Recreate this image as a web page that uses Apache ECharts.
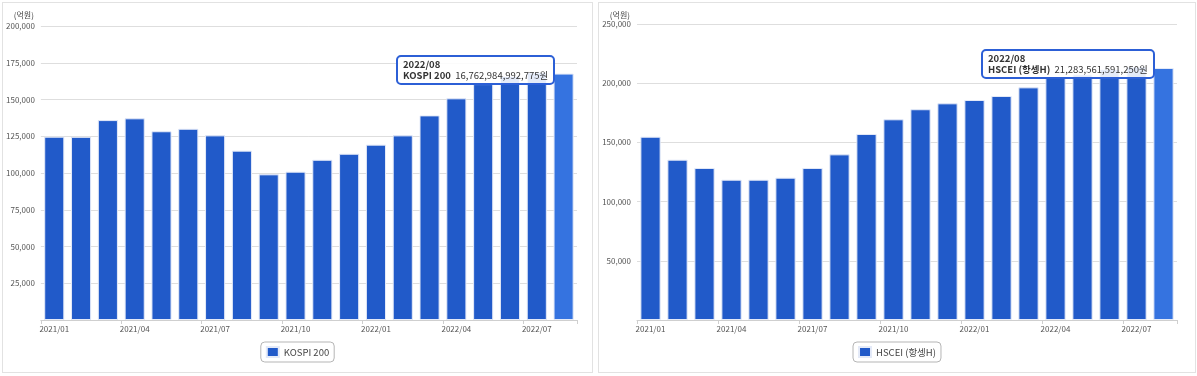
<!DOCTYPE html>
<html>
<head>
<meta charset="utf-8">
<script src="https://cdn.jsdelivr.net/npm/echarts@6/dist/echarts.min.js"></script>
<style>
  body { margin: 0; background: #fff; }
  .panel { position: absolute; top: 2px; height: 369px; border: 1px solid #e2e2e2; box-sizing: content-box; }
</style>
</head>
<body>
<div id="kospiChart" class="panel" style="left:2px; width:589px;"></div>
<div id="hsceiChart" class="panel" style="left:598px; width:596px;"></div>

<script>
// 월별 (억원)
const months = ['2021/01', '2021/02', '2021/03', '2021/04', '2021/05', '2021/06', '2021/07', '2021/08', '2021/09', '2021/10',
                '2021/11', '2021/12', '2022/01', '2022/02', '2022/03', '2022/04', '2022/05', '2022/06', '2022/07', '2022/08'];
const kospiValues = [124700, 124600, 136000, 137200, 128400, 130100, 125600, 115200, 99100, 100900,
                     109000, 113100, 119300, 125600, 139200, 150800, 160500, 166000, 168500, 167629.84992775];
const hsceiValues = [154800, 135400, 128400, 118500, 118500, 120200, 128400, 139900, 157100, 169500,
                     178000, 183000, 185800, 189200, 196500, 205000, 207500, 212000, 214000, 212835.6159125];

const font = "'Noto Sans CJK KR', 'Noto Sans', sans-serif";

function makeChart(id, name, values, max, interval, grid, nameGap) {
    let chart = echarts.init(document.getElementById(id));
    chart.setOption({
        animation: false,
        textStyle: { fontFamily: font },
        grid: grid,
        tooltip: {
            trigger: 'item',
            alwaysShowContent: true,
            backgroundColor: 'rgba(255,255,255,0.88)',
            borderColor: '#2c5fd6',
            borderWidth: 2,
            borderRadius: 5,
            padding: [2, 5],
            extraCssText: 'box-shadow:none; line-height:11px;',
            textStyle: { fontSize: 9.5, color: '#333', fontFamily: font },
            position: function (point, params, dom, rect, size) {
                return [rect.x + rect.width - 19 - size.contentSize[0], rect.y + 11 - size.contentSize[1]];
            },
            formatter: function (p) {
                let won = Math.round(p.value * 1e8).toLocaleString('en-US');
                return '<b>' + p.name + '</b><br/><b>' + p.seriesName + '</b>&nbsp; ' + won + '원';
            }
        },
        legend: {
            data: [name],
            left: 'center',
            top: 339,
            icon: 'rect',
            itemWidth: 12,
            itemHeight: 10,
            itemGap: 4,
            padding: [4, 5],
            borderColor: '#b5b5b5',
            borderWidth: 1,
            borderRadius: 4,
            textStyle: { fontSize: 9.5, color: '#444', fontFamily: font }
        },
        xAxis: {
            type: 'category',
            data: months,
            axisLine: { lineStyle: { color: '#cfcfcf' } },
            axisTick: { show: true, interval: 2, length: 4, lineStyle: { color: '#cfcfcf' } },
            axisLabel: { interval: 2, fontSize: 8, color: '#555', margin: 5 }
        },
        yAxis: {
            type: 'value',
            min: 0,
            max: max,
            interval: interval,
            name: '(억원)',
            nameGap: nameGap,
            nameTextStyle: { fontSize: 8, color: '#444', align: 'right', padding: [0, 7, 0, 0] },
            axisLine: { show: false },
            axisTick: { show: false },
            axisLabel: {
                fontSize: 8, color: '#555', margin: 6,
                formatter: function (v) { return v === 0 ? '' : v.toLocaleString('en-US'); }
            },
            splitLine: { lineStyle: { color: '#dedede' } }
        },
        series: [{
            name: name,
            type: 'bar',
            data: values,
            barCategoryGap: '25%',
            itemStyle: { color: '#215ac9', borderColor: '#e4eaf8', borderWidth: 1 },
            emphasis: { focus: 'none', itemStyle: { color: '#3573e0', borderColor: '#e4eaf8' } }
        }]
    });
    let last = values.length - 1;
    chart.dispatchAction({ type: 'showTip', seriesIndex: 0, dataIndex: last });
    chart.dispatchAction({ type: 'highlight', seriesIndex: 0, dataIndex: last });
    window.addEventListener('resize', function () { chart.resize(); });
    return chart;
}

makeChart('kospiChart', 'KOSPI 200', kospiValues, 200000, 25000, { left: 37, top: 23, right: 15, bottom: 52 }, 7);
makeChart('hsceiChart', 'HSCEI (항셍H)', hsceiValues, 250000, 50000, { left: 38, top: 21, right: 18, bottom: 52 }, 5);
</script>
</body>
</html>
